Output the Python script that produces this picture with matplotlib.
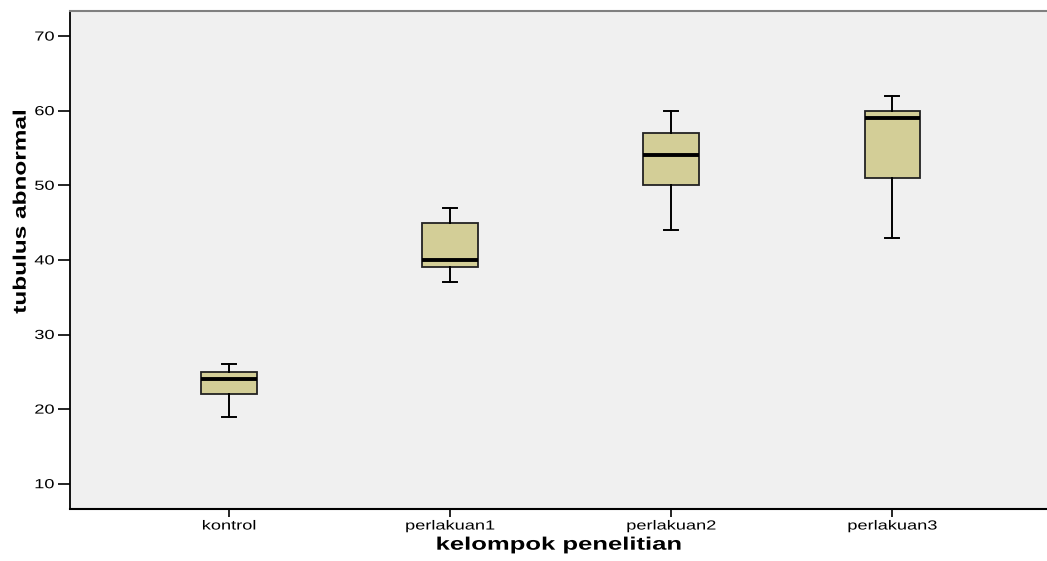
import matplotlib.pyplot as plt
from matplotlib.patheffects import AbstractPathEffect
from matplotlib.transforms import Affine2D

plt.rcParams['font.family'] = ['Liberation Sans', 'DejaVu Sans']

# Five-number summaries per group
groups = ['kontrol', 'perlakuan1', 'perlakuan2', 'perlakuan3']
whisker_low = [19, 37, 44, 43]
q1 = [22, 39, 50, 51]
median = [24, 40, 54, 59]
q3 = [25, 45, 57, 60]
whisker_high = [26, 47, 60, 62]


class Widen(AbstractPathEffect):
    """Stretch text glyphs along the reading direction (wide SPSS-like lettering)."""

    def __init__(self, sx=1.38, anchor='center'):
        super().__init__()
        self.sx = sx
        self.anchor = anchor

    def draw_path(self, renderer, gc, tpath, affine, rgbFace=None):
        v = tpath.vertices
        cx = 0.0
        if len(v):
            xmin, xmax = v[:, 0].min(), v[:, 0].max()
            cx = {'left': xmin, 'right': xmax}.get(self.anchor, (xmin + xmax) / 2)
        pre = Affine2D().translate(-cx, 0).scale(self.sx, 1).translate(cx, 0)
        renderer.draw_path(gc, tpath, pre + affine, rgbFace)


stats = []
for i, g in enumerate(groups):
    stats.append({'label': g, 'whislo': whisker_low[i], 'q1': q1[i],
                  'med': median[i], 'q3': q3[i], 'whishi': whisker_high[i],
                  'fliers': []})

fig = plt.figure(figsize=(10.47, 5.61), dpi=100)
ax = fig.add_axes([0.0666, 0.0932, 0.9334, 0.8877])
ax.set_facecolor('#f0f0f0')

ax.bxp(stats, positions=range(len(groups)), widths=0.25, patch_artist=True,
       boxprops=dict(facecolor='#d3ce97', edgecolor='#222222', linewidth=1.3),
       medianprops=dict(color='black', linewidth=2.8),
       whiskerprops=dict(color='black', linewidth=1.4),
       capprops=dict(color='black', linewidth=1.4),
       capwidths=0.065)

ax.set_xlim(-0.72, 3.70)
ax.set_ylim(6.65, 73.4)
ax.set_yticks([10, 20, 30, 40, 50, 60, 70])
ax.set_xticks(range(len(groups)))
ax.set_xticklabels(groups)

ax.spines['right'].set_visible(False)
ax.spines['top'].set_color('#808080')
ax.spines['top'].set_linewidth(1.5)
ax.spines['left'].set_linewidth(1.3)
ax.spines['bottom'].set_linewidth(1.5)

ax.tick_params(axis='y', length=9, width=1.2, labelsize=9.5, pad=2)
ax.tick_params(axis='x', length=5.5, width=1.2, labelsize=9.5, pad=3)

for lab in ax.get_yticklabels():
    lab.set_path_effects([Widen(1.38, 'right')])
for lab in ax.get_xticklabels():
    lab.set_path_effects([Widen(1.38)])

ax.set_xlabel('kelompok penelitian', fontsize=13, fontweight='bold', labelpad=3,
              path_effects=[Widen(1.42)])
ax.set_ylabel('tubulus abnormal', fontsize=13, fontweight='bold',
              path_effects=[Widen(1.35)])
ax.yaxis.set_label_coords(-0.041, 0.596)

plt.savefig('out.png', dpi=100)
